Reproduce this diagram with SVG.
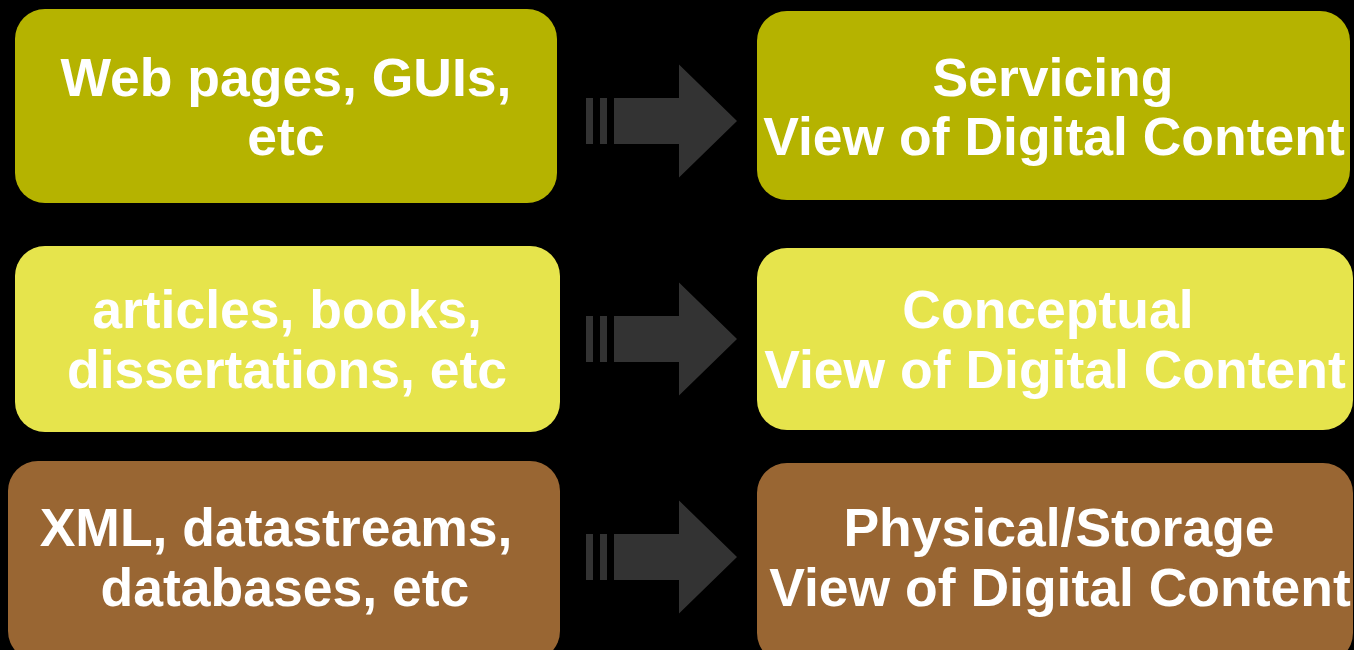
<svg xmlns="http://www.w3.org/2000/svg" width="1354" height="650" viewBox="0 0 1354 650">
  <defs>
    <style>
      .lbl { font-family: "Liberation Sans", Arial, sans-serif; font-weight: bold; font-size: 53.5px; fill: #ffffff; text-anchor: middle; }
      .olive { fill: #b5b300; }
      .lime { fill: #e6e44c; }
      .brown { fill: #996633; }
      .arrow { fill: #333333; }
    </style>
    <!-- striped block arrow, centred on y=0 -->
    <g id="blockArrow">
      <rect x="586" y="-23" width="7" height="46"/>
      <rect x="600" y="-23" width="7" height="46"/>
      <path d="M614,-23 H679 V-56.5 L737,0 L679,56.5 V23 H614 Z"/>
    </g>
  </defs>

  <rect width="1354" height="650" fill="#000000"/>

  <!-- connectors -->
  <g id="connectors" class="arrow">
    <use href="#blockArrow" transform="translate(0,121)"/>
    <use href="#blockArrow" transform="translate(0,339)"/>
    <use href="#blockArrow" transform="translate(0,557)"/>
  </g>

  <!-- left column -->
  <g id="node-web-pages">
    <rect class="olive" x="15" y="9" width="542" height="194" rx="30" ry="30"/>
    <text class="lbl" x="286" y="96">Web pages, GUIs,</text>
    <text class="lbl" x="286" y="155">etc</text>
  </g>
  <g id="node-articles">
    <rect class="lime" x="15" y="246" width="545" height="186" rx="30" ry="30"/>
    <text class="lbl" x="287" y="328">articles, books,</text>
    <text class="lbl" x="287" y="388">dissertations, etc</text>
  </g>
  <g id="node-xml">
    <rect class="brown" x="8" y="461" width="552" height="200" rx="30" ry="30"/>
    <text class="lbl" x="276" y="546">XML, datastreams,</text>
    <text class="lbl" x="285" y="606">databases, etc</text>
  </g>

  <!-- right column -->
  <g id="node-servicing">
    <rect class="olive" x="757" y="11" width="593" height="189" rx="30" ry="30"/>
    <text class="lbl" x="1053" y="96">Servicing</text>
    <text class="lbl" x="1054" y="155">View of Digital Content</text>
  </g>
  <g id="node-conceptual">
    <rect class="lime" x="757" y="248" width="596" height="182" rx="30" ry="30"/>
    <text class="lbl" x="1048" y="328">Conceptual</text>
    <text class="lbl" x="1055" y="388">View of Digital Content</text>
  </g>
  <g id="node-physical">
    <rect class="brown" x="757" y="463" width="596" height="200" rx="30" ry="30"/>
    <text class="lbl" x="1059" y="546">Physical/Storage</text>
    <text class="lbl" x="1060" y="606">View of Digital Content</text>
  </g>
</svg>
